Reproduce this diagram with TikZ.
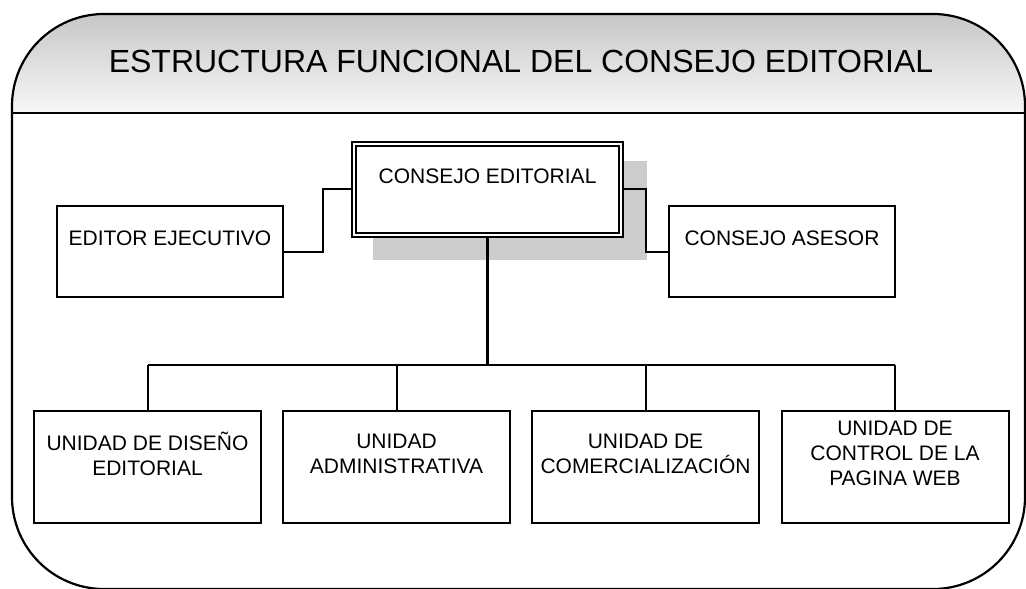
\documentclass[tikz,border=0pt]{standalone}
\usepackage{fontspec}
\setmainfont{Liberation Sans}
\usetikzlibrary{
  calc
}
\pgfdeclarelayer{background}
\pgfsetlayers{background,main}
\tikzset{
  % Shared values that are assigned to different keys in the styles below.
  globals/line width/.initial=1pt,
  globals/text raise/.initial=6.75pt,
%
  % For the rounded outer frame.
  frame/.style={
    line width=1.1pt},
%
  % For the shaded title band.
  band/.style={
    top color=black!22,
    bottom color=black!3},
%
  % For the title.
  title/.style={
    font={\fontsize{16pt}{19pt}\selectfont},
    inner sep=0pt},
%
  % For plain boxes.  The text is put in as a label, a bit above the center.
  box/.style={
    draw,
    fill=white,
    line width=\pgfkeysvalueof{/tikz/globals/line width},
    inner sep=0pt,
    outer sep=0pt},
%
  % For the box on top, with a double border.
  main box/.style={
    box,
    double,
    double distance=1.2pt,
    line width=0.9pt},
%
  % For the text of the boxes.
  box text/.style={
    font={\fontsize{10.5pt}{12.5pt}\selectfont},
    align=center,
    inner sep=0pt,
    yshift=\pgfkeysvalueof{/tikz/globals/text raise}},
%
  % For the gray shadow behind the top box.
  shade box/.style={
    fill=black!20},
%
  % For connectors.
  conn/.style={
    line width=\pgfkeysvalueof{/tikz/globals/line width}},
  trunk/.style={
    conn,
    line width=1.4pt}
}

\begin{document}
\begin{tikzpicture}[x=0.5pt,y=-0.5pt]
  \useasboundingbox (0,0) rectangle (1026,588);

  % Frame with the title band.
  \begin{scope}
    \clip[rounded corners=46pt] (12,14) rectangle (1025,589);
    \shade[band] (12,14) rectangle (1025,113);
  \end{scope}
  \draw[frame, rounded corners=46pt] (12,14) rectangle (1025,589);
  \draw[frame] (12,113) -- (1025,113);
  \node[title] (titulo) at (521,61) {ESTRUCTURA FUNCIONAL DEL CONSEJO EDITORIAL};

  % Boxes.
  \node[main box, minimum width=133.5pt, minimum height=45.5pt,
        label={[box text]center:CONSEJO EDITORIAL}] (ce) at (487.5,189.5) {};
  \node[box, minimum width=113pt, minimum height=45.5pt,
        label={[box text]center:EDITOR EJECUTIVO}] (ee) at (170,251.5) {};
  \node[box, minimum width=113pt, minimum height=45.5pt,
        label={[box text]center:CONSEJO ASESOR}] (ca) at (782,251.5) {};

  \node[box, minimum width=113.5pt, minimum height=56pt,
        label={[box text]center:UNIDAD DE DISEÑO\\EDITORIAL}] (u1) at (147.5,467) {};
  \node[box, minimum width=113.5pt, minimum height=56pt,
        label={[box text]center:UNIDAD\\ADMINISTRATIVA}] (u2) at (396.5,467) {};
  \node[box, minimum width=113.5pt, minimum height=56pt,
        label={[box text]center:UNIDAD DE\\COMERCIALIZACIÓN}] (u3) at (645.5,467) {};
  \node[box, minimum width=113.5pt, minimum height=56pt,
        label={[box text]center:UNIDAD DE\\CONTROL DE LA\\PAGINA WEB}] (u4) at (895,467) {};

  \coordinate (bus) at (487.5,365);

  % Shadow and connectors go below the boxes.
  \begin{pgfonlayer}{background}
    \fill[shade box] ([shift={(19,17)}]ce.north west)
      rectangle ([shift={(26,25)}]ce.south east);
    \draw[conn] (ee.east) -- ++(40,0) |- (ce.west);
    \draw[conn] (ce.east) -- ++(25,0) |- (ca.west);
    \draw[trunk] (ce.south) -- (bus);
    \draw[conn] (u1.north |- bus) -- (u4.north |- bus);
    \foreach \u in {u1,u2,u3,u4}
      {\draw[conn] (\u.north) -- (\u.north |- bus);}
  \end{pgfonlayer}
\end{tikzpicture}
\end{document}
